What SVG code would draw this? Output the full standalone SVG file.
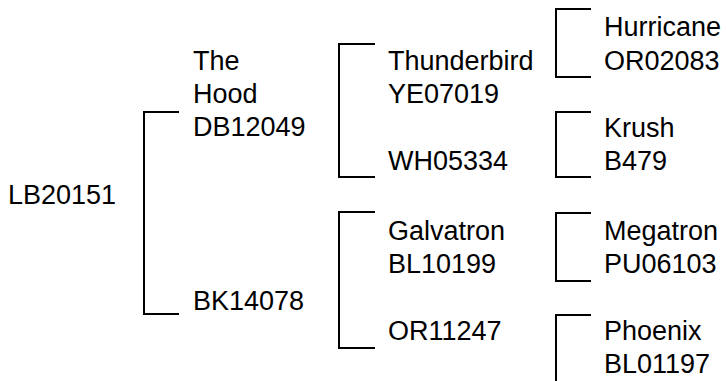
<svg xmlns="http://www.w3.org/2000/svg" width="726" height="381" viewBox="0 0 726 381">
<style>
text{font-family:"Liberation Sans",Arial,sans-serif;font-size:27px;fill:#000}
.c path{fill:none;stroke:#000;stroke-width:2}
</style>
<rect width="726" height="381" fill="#fff"/>
<g class="c" id="connectors">
<path d="M179,112H144V314H179"/>
<path d="M375,44H339V177H375"/>
<path d="M375,212H339V348H375"/>
<path d="M591,9H556V77H591"/>
<path d="M591,112H556V177H591"/>
<path d="M591,213H556V281H591"/>
<path d="M591,315H556V390"/>
</g>
<g id="n_LB20151"><text x="8" y="204">LB20151</text></g>
<g id="n_DB12049"><text x="193" y="70">The</text><text x="193" y="103">Hood</text><text x="193" y="136">DB12049</text></g>
<g id="n_BK14078"><text x="193" y="310">BK14078</text></g>
<g id="n_YE07019"><text x="388" y="70">Thunderbird</text><text x="388" y="103">YE07019</text></g>
<g id="n_WH05334"><text x="388" y="170">WH05334</text></g>
<g id="n_BL10199"><text x="388" y="240">Galvatron</text><text x="388" y="273">BL10199</text></g>
<g id="n_OR11247"><text x="388" y="340">OR11247</text></g>
<g id="n_OR02083"><text x="604" y="36">Hurricane</text><text x="604" y="70">OR02083</text></g>
<g id="n_B479"><text x="604" y="137">Krush</text><text x="604" y="170">B479</text></g>
<g id="n_PU06103"><text x="604" y="240">Megatron</text><text x="604" y="273">PU06103</text></g>
<g id="n_BL01197"><text x="604" y="340">Phoenix</text><text x="604" y="373">BL01197</text></g>
</svg>
